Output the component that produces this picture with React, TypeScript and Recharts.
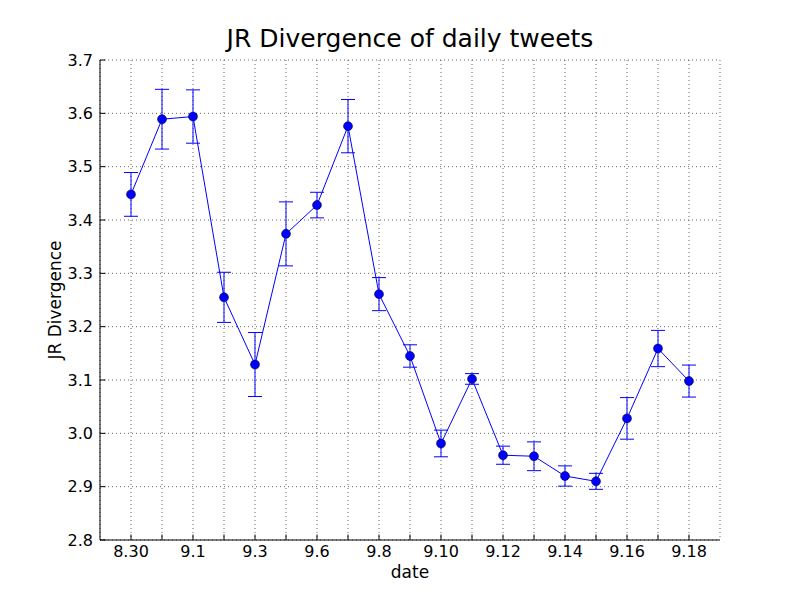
import { CartesianGrid, ErrorBar, Line, LineChart, XAxis, YAxis } from 'recharts';

const dates = ['8.30', '8.31', '9.1', '9.2', '9.3', '9.4', '9.6', '9.7', '9.8', '9.9', '9.10', '9.11', '9.12', '9.13', '9.14', '9.15', '9.16', '9.17', '9.18'];
const divergence = [3.448, 3.589, 3.594, 3.255, 3.129, 3.374, 3.428, 3.576, 3.261, 3.145, 2.981, 3.102, 2.959, 2.957, 2.920, 2.910, 3.028, 3.159, 3.098];
const spread = [0.041, 0.056, 0.05, 0.047, 0.06, 0.06, 0.024, 0.05, 0.031, 0.021, 0.025, 0.01, 0.017, 0.027, 0.019, 0.015, 0.039, 0.034, 0.03];
const yTicks = [2.8, 2.9, 3.0, 3.1, 3.2, 3.3, 3.4, 3.5, 3.6, 3.7];

const rows = dates.map((d, i) => ({ idx: i, date: d, jr: divergence[i], err: spread[i] }));
const xTicks = dates.map((_, i) => i);

const FONT = '"DejaVu Sans", sans-serif';
const tickStyle = { fontSize: 16, fill: '#000', fontFamily: FONT };
const labelStyle = { fontSize: 17, fill: '#000', fontFamily: FONT };
const frame = { stroke: '#000', strokeWidth: 1 };

export default function App() {
  return (
    <div style={{ position: 'absolute', left: 0, top: 0, width: 800, height: 600, background: '#fff', fontFamily: FONT }}>
      <div style={{ position: 'absolute', left: 100, width: 620, top: 23, textAlign: 'center', fontSize: 25, lineHeight: '32px' }}>
        JR Divergence of daily tweets
      </div>
      <LineChart width={800} height={600} data={rows} margin={{ top: 60, right: 80, left: 40, bottom: 0 }}>
        <CartesianGrid stroke="#222" strokeWidth={0.7} strokeDasharray="1 3" />
        <XAxis
          dataKey="idx" type="number" domain={[-1, 19]} ticks={xTicks} allowDataOverflow
          height={60} tickSize={-5.5} tickMargin={11} axisLine={frame} tickLine={frame}
          tick={tickStyle} interval={0}
          tickFormatter={(v: number) => (v % 2 === 0 ? dates[v] : '')}
          label={{ value: 'date', position: 'insideBottom', offset: 22, style: labelStyle }}
        />
        <XAxis
          xAxisId="top" orientation="top" dataKey="idx" type="number" domain={[-1, 19]} ticks={xTicks}
          allowDataOverflow height={0} tickSize={-5.5} axisLine={frame} tickLine={frame} interval={0}
          tickFormatter={() => ''}
        />
        <YAxis
          type="number" domain={[2.8, 3.7]} ticks={yTicks} width={60} tickSize={-5.5} tickMargin={12.5}
          axisLine={frame} tickLine={frame} tick={tickStyle} interval={0}
          tickFormatter={(v: number) => v.toFixed(1)}
          label={{ value: 'JR Divergence', angle: -90, position: 'insideLeft', offset: 15, style: { ...labelStyle, textAnchor: 'middle' } }}
        />
        <YAxis
          yAxisId="right" orientation="right" type="number" domain={[2.8, 3.7]} ticks={yTicks}
          width={0} tickSize={-5.5} axisLine={frame} tickLine={frame} interval={0}
          tickFormatter={() => ''}
        />
        <Line
          dataKey="jr" stroke="#0000ff" strokeWidth={1} isAnimationActive={false}
          dot={{ r: 4.5, fill: '#0000ff', stroke: '#000', strokeWidth: 0.5, fillOpacity: 1 }}
          activeDot={false}
        >
          <ErrorBar dataKey="err" direction="y" width={7} stroke="#0000ff" strokeWidth={1} isAnimationActive={false} />
        </Line>
      </LineChart>
    </div>
  );
}
